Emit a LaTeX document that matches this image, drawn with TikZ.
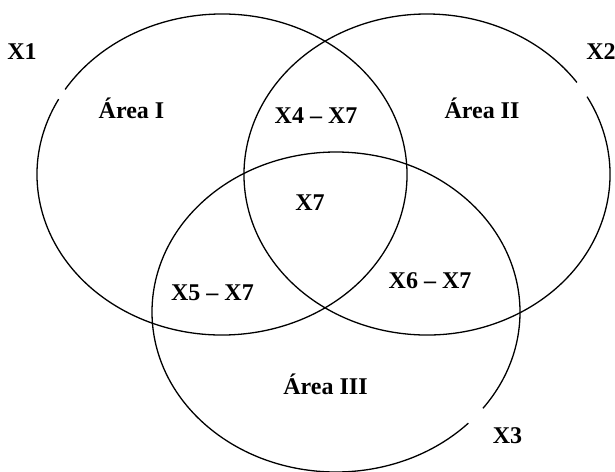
\documentclass[tikz,border=0pt]{standalone}
\usepackage{fontspec}
\setmainfont{Liberation Serif}
\begin{document}
\begin{tikzpicture}[x=1pt,y=-1pt,
  lbl/.style={font=\bfseries\fontsize{24}{28}\selectfont, anchor=base, inner sep=0pt},
  ring/.style={line width=1.3pt, black}]
\useasboundingbox (0,0) rectangle (615,471);
\coordinate (c1) at (222,174.5);
\coordinate (c2) at (427,174.5);
\coordinate (c3) at (336,312);
\draw[ring] (c1) ++(212:185 and 160.5) arc[start angle=212, end angle=568, x radius=185, y radius=160.5];
\draw[ring] (c2) ++(331:183 and 160.5) arc[start angle=331, end angle=685, x radius=183, y radius=160.5];
\draw[ring] (c3) ++(44:184 and 160) arc[start angle=44, end angle=397, x radius=184, y radius=160];
% labels
\node[lbl] (x1) at (22,59.5) {X1};
\node[lbl] (x2) at (601,59.5) {X2};
\node[lbl] (x3) at (507.5,443) {X3};
\node[lbl] (a1) at (131.5,118) {Área I};
\node[lbl] (a2) at (482,118) {Área II};
\node[lbl] (a3) at (325.5,394) {Área III};
\node[lbl] (x47) at (316,123) {X4 – X7};
\node[lbl] (x7) at (310,210) {X7};
\node[lbl] (x57) at (212.5,300.5) {X5 – X7};
\node[lbl] (x67) at (430,288) {X6 – X7};
\end{tikzpicture}
\end{document}
